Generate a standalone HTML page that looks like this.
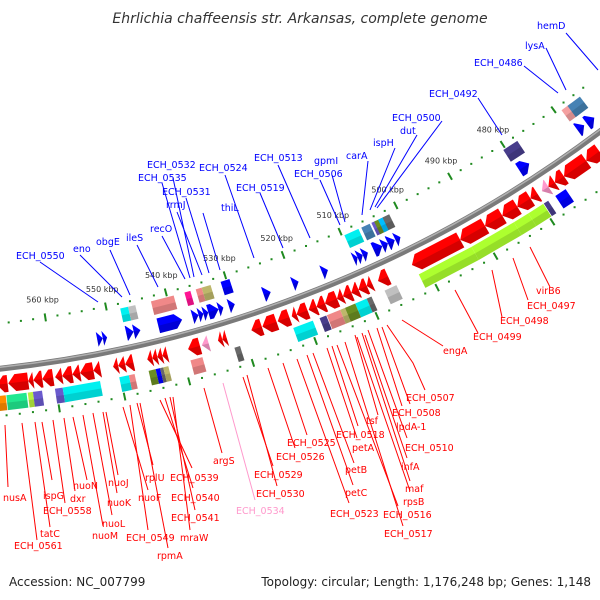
<!DOCTYPE html>
<html><head><meta charset="utf-8">
<style>
html,body{margin:0;padding:0;background:#fff;}
svg{display:block;}
text{font-family:"DejaVu Sans","Liberation Sans",sans-serif;}
.bl{fill:#0000ff;font-size:9.5px;}
.rl{fill:#ff0000;font-size:9.5px;}
.pl{fill:#ff99cc;font-size:9.5px;}
.kb{fill:#333;font-size:8px;}
</style></head>
<body>
<svg id="map" width="600" height="600" viewBox="0 0 600 600" xmlns="http://www.w3.org/2000/svg">
<rect width="600" height="600" fill="#fff"/>
<text x="300" y="23" text-anchor="middle" style="font-style:italic;font-size:14px;fill:#333">Ehrlichia chaffeensis str. Arkansas, complete genome</text>
<g id="marks"></g>
<g id="labellines" stroke-width="1" fill="none">
<g stroke="#0000ff">
<line x1="566" y1="33" x2="598" y2="70"/><line x1="546" y1="48" x2="566" y2="90"/><line x1="524" y1="66" x2="558" y2="93"/><line x1="478" y1="98" x2="502" y2="135"/>
<line x1="442" y1="121" x2="377" y2="208"/><line x1="417" y1="135" x2="375" y2="207"/><line x1="395" y1="148" x2="370" y2="210"/><line x1="368" y1="161" x2="362" y2="215"/>
<line x1="332" y1="175" x2="345" y2="222"/><line x1="320" y1="180" x2="340" y2="225"/><line x1="278" y1="165" x2="310" y2="238"/><line x1="260" y1="193" x2="283" y2="248"/>
<line x1="225" y1="175" x2="254" y2="258"/><line x1="203" y1="213" x2="220" y2="270"/><line x1="186" y1="198" x2="209" y2="273"/><line x1="177" y1="212" x2="202" y2="275"/>
<line x1="162" y1="183" x2="190" y2="278"/><line x1="173" y1="178" x2="194" y2="277"/><line x1="162" y1="236" x2="185" y2="279"/><line x1="137" y1="245" x2="158" y2="287"/>
<line x1="110" y1="250" x2="130" y2="295"/><line x1="80" y1="255" x2="122" y2="297"/><line x1="40" y1="262" x2="98" y2="302"/>
</g>
<g stroke="#ff0000">
<line x1="5" y1="425" x2="8" y2="487"/><line x1="22" y1="423" x2="37" y2="540"/><line x1="35" y1="422" x2="50" y2="527"/><line x1="42" y1="422" x2="52" y2="480"/>
<line x1="53" y1="420" x2="65" y2="503"/><line x1="64" y1="418" x2="75" y2="491"/><line x1="73" y1="417" x2="87" y2="480"/><line x1="83" y1="415" x2="103" y2="526"/>
<line x1="93" y1="413" x2="112" y2="515"/><line x1="103" y1="412" x2="117" y2="493"/><line x1="106" y1="412" x2="118" y2="475"/><line x1="123" y1="407" x2="148" y2="490"/>
<line x1="130" y1="405" x2="148" y2="530"/><line x1="137" y1="403" x2="153" y2="465"/><line x1="140" y1="403" x2="168" y2="548"/><line x1="160" y1="400" x2="192" y2="468"/>
<line x1="165" y1="398" x2="193" y2="488"/><line x1="170" y1="397" x2="195" y2="510"/><line x1="173" y1="397" x2="190" y2="530"/><line x1="204" y1="388" x2="222" y2="453"/>
<line x1="243" y1="377" x2="273" y2="466"/><line x1="247" y1="375" x2="277" y2="486"/><line x1="268" y1="368" x2="295" y2="448"/><line x1="283" y1="363" x2="307" y2="435"/>
<line x1="297" y1="359" x2="349" y2="503"/><line x1="307" y1="355" x2="353" y2="485"/><line x1="313" y1="353" x2="354" y2="463"/><line x1="327" y1="348" x2="357" y2="438"/>
<line x1="332" y1="346" x2="358" y2="426"/><line x1="337" y1="345" x2="398" y2="506"/><line x1="345" y1="342" x2="403" y2="526"/><line x1="355" y1="335" x2="378" y2="415"/>
<line x1="357" y1="337" x2="410" y2="491"/><line x1="362" y1="333" x2="410" y2="481"/><line x1="365" y1="335" x2="407" y2="458"/><line x1="368" y1="330" x2="407" y2="438"/>
<line x1="377" y1="328" x2="402" y2="406"/><line x1="382" y1="327" x2="410" y2="404"/><polyline points="387,325 413,363 425,390"/><line x1="402" y1="320" x2="443" y2="346"/>
<line x1="455" y1="290" x2="478" y2="333"/><line x1="492" y1="270" x2="502" y2="317"/><line x1="513" y1="258" x2="528" y2="300"/><line x1="530" y1="247" x2="550" y2="287"/>
</g>
<line stroke="#ff99cc" x1="223" y1="383" x2="255" y2="500"/>
</g>
<g>
<text class="bl" x="537" y="29">hemD</text><text class="bl" x="525" y="49">lysA</text><text class="bl" x="474" y="66">ECH_0486</text>
<text class="bl" x="429" y="97">ECH_0492</text><text class="bl" x="392" y="121">ECH_0500</text><text class="bl" x="400" y="134">dut</text>
<text class="bl" x="373" y="146">ispH</text><text class="bl" x="346" y="159">carA</text><text class="bl" x="314" y="164">gpmI</text>
<text class="bl" x="294" y="177">ECH_0506</text><text class="bl" x="254" y="161">ECH_0513</text><text class="bl" x="236" y="191">ECH_0519</text>
<text class="bl" x="199" y="171">ECH_0524</text><text class="bl" x="221" y="211">thiL</text><text class="bl" x="162" y="195">ECH_0531</text>
<text class="bl" x="166" y="208">rrmJ</text><text class="bl" x="138" y="181">ECH_0535</text><text class="bl" x="147" y="168">ECH_0532</text>
<text class="bl" x="150" y="232">recO</text><text class="bl" x="126" y="241">ileS</text><text class="bl" x="96" y="245">obgE</text>
<text class="bl" x="73" y="252">eno</text><text class="bl" x="16" y="259">ECH_0550</text>
</g>
<g>
<text class="rl" x="3" y="501">nusA</text><text class="rl" x="14" y="549">ECH_0561</text><text class="rl" x="40" y="537">tatC</text>
<text class="rl" x="43" y="499">ispG</text><text class="rl" x="43" y="514">ECH_0558</text><text class="rl" x="70" y="502">dxr</text>
<text class="rl" x="73" y="489">nuoN</text><text class="rl" x="92" y="539">nuoM</text><text class="rl" x="102" y="527">nuoL</text>
<text class="rl" x="107" y="506">nuoK</text><text class="rl" x="108" y="486">nuoJ</text><text class="rl" x="138" y="501">nuoF</text>
<text class="rl" x="126" y="541">ECH_0549</text><text class="rl" x="145" y="481">rplU</text><text class="rl" x="157" y="559">rpmA</text>
<text class="rl" x="170" y="481">ECH_0539</text><text class="rl" x="171" y="501">ECH_0540</text><text class="rl" x="171" y="521">ECH_0541</text>
<text class="rl" x="180" y="541">mraW</text><text class="rl" x="213" y="464">argS</text><text class="pl" x="236" y="514">ECH_0534</text>
<text class="rl" x="254" y="478">ECH_0529</text><text class="rl" x="256" y="497">ECH_0530</text><text class="rl" x="276" y="460">ECH_0526</text>
<text class="rl" x="287" y="446">ECH_0525</text><text class="rl" x="330" y="517">ECH_0523</text><text class="rl" x="345" y="496">petC</text>
<text class="rl" x="345" y="473">petB</text><text class="rl" x="352" y="451">petA</text><text class="rl" x="336" y="438">ECH_0518</text>
<text class="rl" x="366" y="424">tsf</text><text class="rl" x="383" y="518">ECH_0516</text><text class="rl" x="384" y="537">ECH_0517</text>
<text class="rl" x="403" y="505">rpsB</text><text class="rl" x="405" y="492">maf</text><text class="rl" x="401" y="470">infA</text>
<text class="rl" x="405" y="451">ECH_0510</text><text class="rl" x="396" y="430">lpdA-1</text><text class="rl" x="392" y="416">ECH_0508</text>
<text class="rl" x="406" y="401">ECH_0507</text><text class="rl" x="443" y="354">engA</text><text class="rl" x="473" y="340">ECH_0499</text>
<text class="rl" x="500" y="324">ECH_0498</text><text class="rl" x="527" y="309">ECH_0497</text><text class="rl" x="536" y="294">virB6</text>
</g>
<text x="9" y="586" style="font-size:12px;fill:#222">Accession: NC_007799</text>
<text x="591" y="586" text-anchor="end" style="font-size:12px;fill:#222">Topology: circular; Length: 1,176,248 bp; Genes: 1,148</text>
</svg>
<script>
// ---- data (kbp) ----
const revStart = [567.3,564.1,563.3,561.9,560.2,558.8,557.2,556,553.9,552.8,550,548.9,547.6,544.6,543.8,543,542.2,537,535.6,533.4,532.7,527,524.6,522.5,521.3,519.5,518,516.6,514.6,513.6,512.2,511,509.6,508.7,506,493.5,489.1,486,483.3,480.9,479.6,477.6,476.4,474.7,470.5,468];
const revEnd   = [569,567.2,564.1,563.3,561.9,559.9,558.8,557.2,556,553.9,550.8,550,548.9,545.4,544.6,543.8,543,538.9,536.7,534.1,533.4,528.7,526.9,524.4,522.1,521.3,519.3,518,516.6,514.6,513.6,512.2,511,509.6,507.7,501.9,493.5,489.1,486,483.3,480.9,478.8,477.6,476.4,474.7,470.5];
const revPseudo = [18,41];
const fwdStart = [551.5,550.8,546.5,545.4,538.6,535.9,535.1,534.3,532.6,531.8,529.9,523.9,519.2,514.2,509.1,508.2,507.3,504.8,503.8,502.6,501.6,478.1,467.5,465.5];
const fwdEnd   = [552.4,551.5,547.7,546.5,542.5,536.9,535.9,535.1,534.3,532.6,530.9,525.1,520.2,515.2,509.8,509.1,508.2,506.3,504.8,503.8,502.5,480,468.8,467];
const fwdCogStart = [546.5,545.3,538.9,536.1,534.2,532.7,529.5,507.1,505.1,503.9,503,502.7,501.6,477.7,467.1,465.3];
const fwdCogEnd   = [547.8,546.5,542.7,537.1,535.2,534.2,531,509.6,506.6,504.8,504.3,503.6,502.8,480.4,469,467.8];
const fwdCogCat   = ['C','S','L','P','L','K','B','C','T','V','O','D','G','N','R','T'];
const revCogStart = [567.8,564.6,563.6,562.2,559,553.2,548.7,547.8,544.5,543.8,543.3,542.5,537.1,531.1,519.3,517.1,514.8,514,512.3,510.4,509.6,505.4,492.5,485,482.4,479.7,478.8,475.6];
const revCogEnd   = [569.5,567.7,564.4,563.6,560.2,559,550.2,548.7,545.6,544.5,543.8,543.3,539,532,522.5,518.2,517,514.8,514,512.3,510.4,507.4,501.6,492.5,485,482.4,479.6,477.5];
const revCogCat   = ['A','M','W','V','V','C','C','L','O','B','G','K','L','G','C','N','L','K','O','C','G','S','Y','Y','Y','Y','N','B'];
const tickLabels = [480,490,500,510,520,530,540,550,560];
const tickMin = 464, tickMax = 572;

// ---- styles & geometry ----
const cogColor = {C:'#00f0f0',S:'#c0c0c0',L:'#f08888',P:'#ff1493',K:'#bdb76b',B:'#0000ff',T:'#4682b4',V:'#6a5acd',O:'#6b8e23',D:'#00bfff',G:'#696969',N:'#483d8b',R:'#f4a0a0',Y:'#adff2f',A:'#ff8c00',M:'#22e890',W:'#b8f040'};
const CX=-133, CY=-845;
const R = {tickOut:1176, fcog1:1181, fcog2:1195, fa1:1199, fa2:1214, bb:1221, ra1:1228, ra2:1245, rcog1:1248, rcog2:1263, tickIn:1268, lab:1158};
function ang(k){ return (78.28 + (k-550)*0.3) * Math.PI/180; }
function pt(k,r){ const a=ang(k); return [CX+r*Math.cos(a), CY+r*Math.sin(a)]; }
function P(p){ return p[0].toFixed(2)+','+p[1].toFixed(2); }
const NS='http://www.w3.org/2000/svg';
const g=document.getElementById('marks');
function mk(tag, attrs){ const e=document.createElementNS(NS,tag); for(const k in attrs) e.setAttribute(k,attrs[k]); g.appendChild(e); return e; }
function arcPath(k1,k2,r){ const a=pt(k1,r), b=pt(k2,r); return 'M'+P(a)+' A'+r+','+r+' 0 0 0 '+P(b); }
function sector(k1,k2,r1,r2){ return 'M'+P(pt(k1,r1))+' L'+P(pt(k2,r1))+' L'+P(pt(k2,r2))+' L'+P(pt(k1,r2))+' Z'; }

// backbone
let e = mk('path',{d:arcPath(tickMax+4,tickMin-6,R.bb),stroke:'#7a7a7a','stroke-width':6,fill:'none'});


e = mk('path',{d:arcPath(tickMax+4,tickMin-6,R.bb-1.5),stroke:'#b0b0b0','stroke-width':1.5,fill:'none'});



// ticks
for(let k=tickMin;k<=tickMax;k+=2){
  const major = (k%10===0);
  [R.tickOut,R.tickIn].forEach(function(r){
    let t;
    if(major){ const a=pt(k,r-4), b=pt(k,r+4); t=mk('line',{x1:a[0],y1:a[1],x2:b[0],y2:b[1],stroke:'#1f8a1f','stroke-width':2}); }
    else { const a=pt(k,r); t=mk('rect',{x:a[0]-1,y:a[1]-1,width:2,height:2,fill:'#1f8a1f'}); }
    
    
  });
}
tickLabels.forEach(function(k){
  const a=pt(k,R.lab);
  const t=mk('text',{x:a[0],y:a[1]+3,'text-anchor':'middle',class:'kb'});
  t.textContent=k+' kbp';
  
  
});

// COG boxes
function cogBox(k1,k2,r1,r2,cat){
  const b=mk('path',{d:sector(k1,k2,r1,r2),fill:cogColor[cat]});
  
  
  const s=mk('path',{d:sector(k1,k2,(r1+r2)/2,r2),fill:'rgba(0,0,0,0.13)'});
  
  
}
fwdCogStart.forEach(function(s,i){ cogBox(s,fwdCogEnd[i],R.fcog1,R.fcog2,fwdCogCat[i]); });
revCogStart.forEach(function(s,i){ cogBox(s,revCogEnd[i],R.rcog1,R.rcog2,revCogCat[i]); });

// arrows
function arrow(k1,k2,r1,r2,towardHigh,color,name){
  const span=k2-k1, h=Math.min(span,1.1), rm=(r1+r2)/2;
  let d, ds;
  if(towardHigh){
    d='M'+P(pt(k1,r1))+' L'+P(pt(k2-h,r1))+' L'+P(pt(k2,rm))+' L'+P(pt(k2-h,r2))+' L'+P(pt(k1,r2))+' Z';
    ds='M'+P(pt(k1,rm))+' L'+P(pt(k2,rm))+' L'+P(pt(k2-h,r2))+' L'+P(pt(k1,r2))+' Z';
  } else {
    d='M'+P(pt(k2,r1))+' L'+P(pt(k1+h,r1))+' L'+P(pt(k1,rm))+' L'+P(pt(k1+h,r2))+' L'+P(pt(k2,r2))+' Z';
    ds='M'+P(pt(k2,rm))+' L'+P(pt(k1,rm))+' L'+P(pt(k1+h,r2))+' L'+P(pt(k2,r2))+' Z';
  }
  const a=mk('path',{d:d,fill:color});
  
  
  const s=mk('path',{d:ds,fill:'rgba(0,0,0,0.16)'});
  
  
}
revStart.forEach(function(s,i){
  const pseudo = revPseudo.indexOf(i)>=0;
  arrow(s,revEnd[i],R.ra1,R.ra2,true,pseudo?'#ff99cc':'#ff0000',pseudo?'pseudo-gene':'reverse-gene');
});
fwdStart.forEach(function(s,i){ arrow(s,fwdEnd[i],R.fa1,R.fa2,false,'#0000ff','forward-gene'); });
</script>
</body></html>
